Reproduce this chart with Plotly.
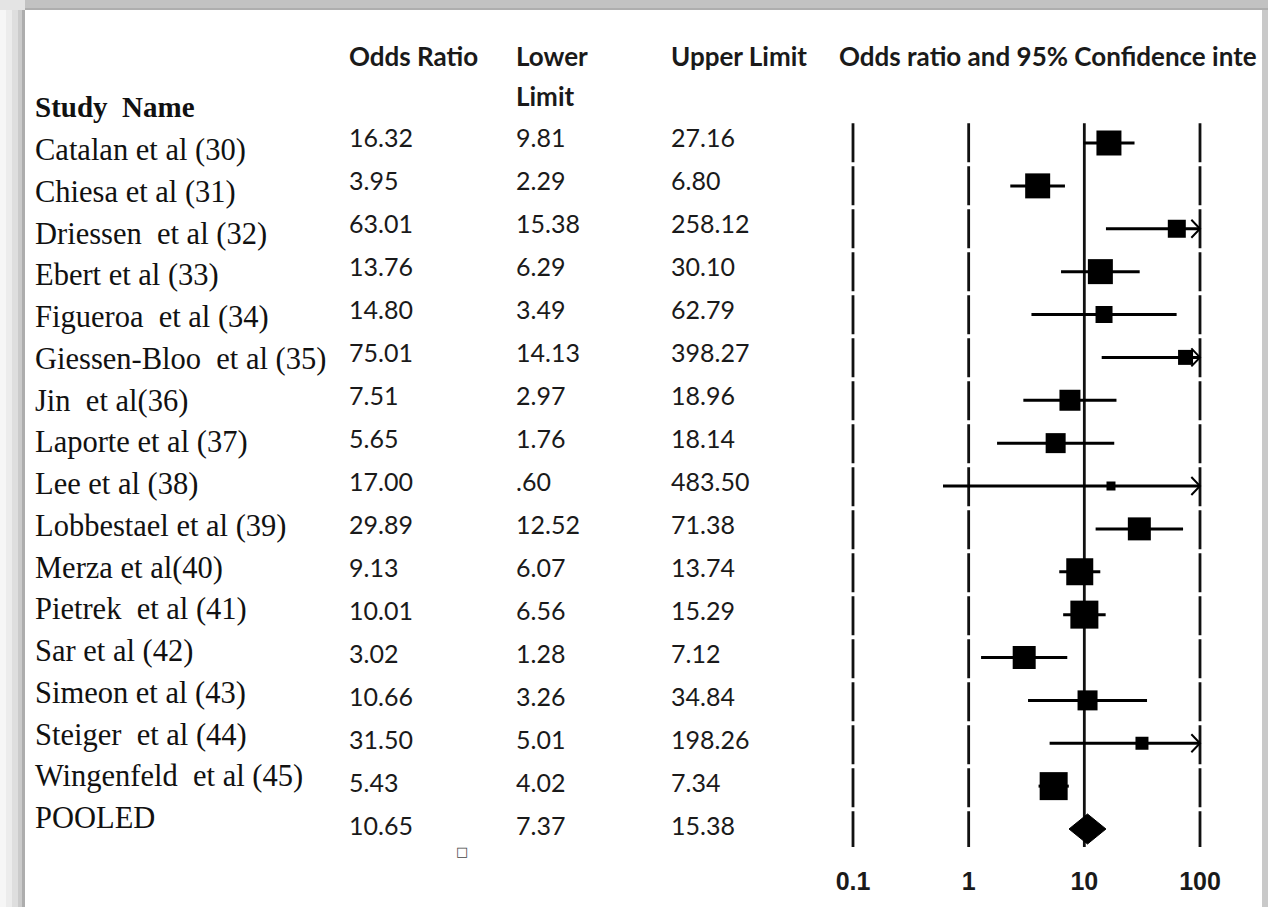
import numpy as np
import plotly.graph_objects as go

# ---------------- data ----------------
studies = ["Catalan et al (30)", "Chiesa et al (31)", "Driessen\u00a0 et al (32)", "Ebert et al (33)",
           "Figueroa\u00a0 et al (34)", "Giessen-Bloo\u00a0 et al (35)", "Jin\u00a0 et al(36)",
           "Laporte et al (37)", "Lee et al (38)", "Lobbestael et al (39)", "Merza et al(40)",
           "Pietrek\u00a0 et al (41)", "Sar et al (42)", "Simeon et al (43)", "Steiger\u00a0 et al (44)",
           "Wingenfeld\u00a0 et al (45)", "POOLED"]
odds_ratio = [16.32, 3.95, 63.01, 13.76, 14.80, 75.01, 7.51, 5.65, 17.00, 29.89, 9.13, 10.01,
              3.02, 10.66, 31.50, 5.43, 10.65]
lower_limit = [9.81, 2.29, 15.38, 6.29, 3.49, 14.13, 2.97, 1.76, 0.60, 12.52, 6.07, 6.56,
               1.28, 3.26, 5.01, 4.02, 7.37]
upper_limit = [27.16, 6.80, 258.12, 30.10, 62.79, 398.27, 18.96, 18.14, 483.50, 71.38, 13.74, 15.29,
               7.12, 34.84, 198.26, 7.34, 15.38]
tick_values = [0.1, 1, 10, 100]
tick_labels = ["0.1", "1", "10", "100"]
axis_max = 100

# style: box sizes (px) per study (weight proxy)
box_sizes = [25, 25, 18, 25, 17, 15, 21, 20, 9, 23, 27, 28, 23, 20, 13, 28]

W, H = 1268, 907
def px(x):
    return x / W
def py(y):
    return 1 - y / H

# pixel geometry of the plot region
X01, X100 = 853.0, 1200.0
dec = (X100 - X01) / 3.0
pad = 40
x_dom = [(X01 - pad) / W, (X100 + pad) / W]
x_rng = [-1 - pad / dec, 2 + pad / dec]
ROW0, ROWH = 143.0, 42.875
PLOT_BOTTOM = 850.0
y_top_i = -ROW0 / ROWH
y_bot_i = (PLOT_BOTTOM - ROW0) / ROWH
y_dom = [1 - PLOT_BOTTOM / H, 1]

fig = go.Figure()

n = len(studies)
rows = list(range(n))

# vertical reference lines
for v in tick_values:
    fig.add_trace(go.Scatter(
        x=[v, v], y=[-0.46, n - 1 + 0.42], mode="lines",
        line=dict(color="#111111", width=2.8, dash="solid" if v == 10 else "39px,4px"),
        hoverinfo="skip", showlegend=False))

# CI lines & arrows
for i in range(n - 1):
    lo, hi = lower_limit[i], upper_limit[i]
    hi_c = min(hi, axis_max)
    fig.add_trace(go.Scatter(x=[lo, hi_c], y=[i, i], mode="lines",
                             line=dict(color="black", width=3), hoverinfo="skip", showlegend=False))
    if hi > axis_max:
        back = axis_max / 10 ** 0.075
        fig.add_trace(go.Scatter(x=[back, axis_max, back], y=[i - 0.21, i, i + 0.21], mode="lines",
                                 line=dict(color="black", width=2), hoverinfo="skip", showlegend=False))

# squares
fig.add_trace(go.Scatter(x=odds_ratio[:-1], y=rows[:-1], mode="markers",
                         marker=dict(symbol="square", size=box_sizes, color="black", opacity=1,
                                     line=dict(width=0)),
                         hoverinfo="skip", showlegend=False, cliponaxis=False))

# pooled diamond
p = n - 1
fig.add_trace(go.Scatter(
    x=[lower_limit[p], odds_ratio[p], upper_limit[p], odds_ratio[p], lower_limit[p]],
    y=[p, p - 0.35, p, p + 0.35, p], mode="lines", fill="toself",
    fillcolor="black", line=dict(color="black", width=1), hoverinfo="skip", showlegend=False))

fig.update_xaxes(type="log", domain=x_dom, range=x_rng, showgrid=False, zeroline=False,
                 showline=False, ticks="", tickvals=tick_values,
                 ticktext=[f"<b>{t}</b>" for t in tick_labels],
                 tickfont=dict(family="Liberation Sans", size=25, color="#1a1a1a"),
                 ticklabelstandoff=14)
fig.update_yaxes(domain=y_dom, range=[y_bot_i, y_top_i], showgrid=False, zeroline=False,
                 showline=False, showticklabels=False, ticks="")

ann = []
def txt(x, y, s, family="Lato", size=25, bold=False, color="#1a1a1a"):
    ann.append(dict(x=px(x), y=py(y), xref="paper", yref="paper", xanchor="left", yanchor="middle",
                    text=f"<b>{s}</b>" if bold else s, showarrow=False,
                    font=dict(family=family, size=size, color=color)))

# headers
txt(347, 56, "Odds Ratio", size=26, bold=True)
txt(514, 56, "Lower", size=26, bold=True)
txt(514, 96, "Limit", size=26, bold=True)
txt(669, 56, "Upper Limit", size=26, bold=True)
txt(837, 56, "Odds ratio and 95% Confidence inte", size=26, bold=True)
txt(33, 107, "Study\u00a0 Name", family="Liberation Serif", size=29, bold=True, color="#111111")

def fmt(v):
    s = f"{v:.2f}"
    return s[1:] if s.startswith("0") else s

for i in range(n):
    txt(33, 150 + i * 41.75, studies[i], family="Liberation Serif", size=30.5, color="#111111")
    yy = 137 + i * 43
    txt(347, yy, fmt(odds_ratio[i]))
    txt(514, yy, fmt(lower_limit[i]))
    txt(669, yy, fmt(upper_limit[i]))

txt(454, 851, "\u25a1", family="DejaVu Sans", size=13, color="#444444")

# frame decoration (screenshot border)
shapes = []
def rect(x0, y0, x1, y1, c):
    shapes.append(dict(type="rect", xref="paper", yref="paper", x0=px(x0), x1=px(x1),
                       y0=py(y1), y1=py(y0), fillcolor=c, line=dict(width=0), layer="below"))
rect(0, 0, 6, H, "#f6f6f6")
rect(6, 0, 12, H, "#ececec")
rect(12, 0, 18, H, "#dedede")
rect(18, 0, 22, H, "#cbcbcb")
rect(22, 0, 25, H, "#adadad")
rect(25, 0, W, 8, "#c2c2c2")
rect(25, 8, W, 10, "#aeaeae")
rect(0, 0, 25, 10, "#e4e4e4")
rect(1262, 10, W, H, "#c9c9c9")

fig.update_layout(width=W, height=H, autosize=False, margin=dict(l=0, r=0, t=0, b=0),
                  paper_bgcolor="white", plot_bgcolor="rgba(0,0,0,0)",
                  annotations=ann, shapes=shapes, showlegend=False)

fig.write_html("out.html")
